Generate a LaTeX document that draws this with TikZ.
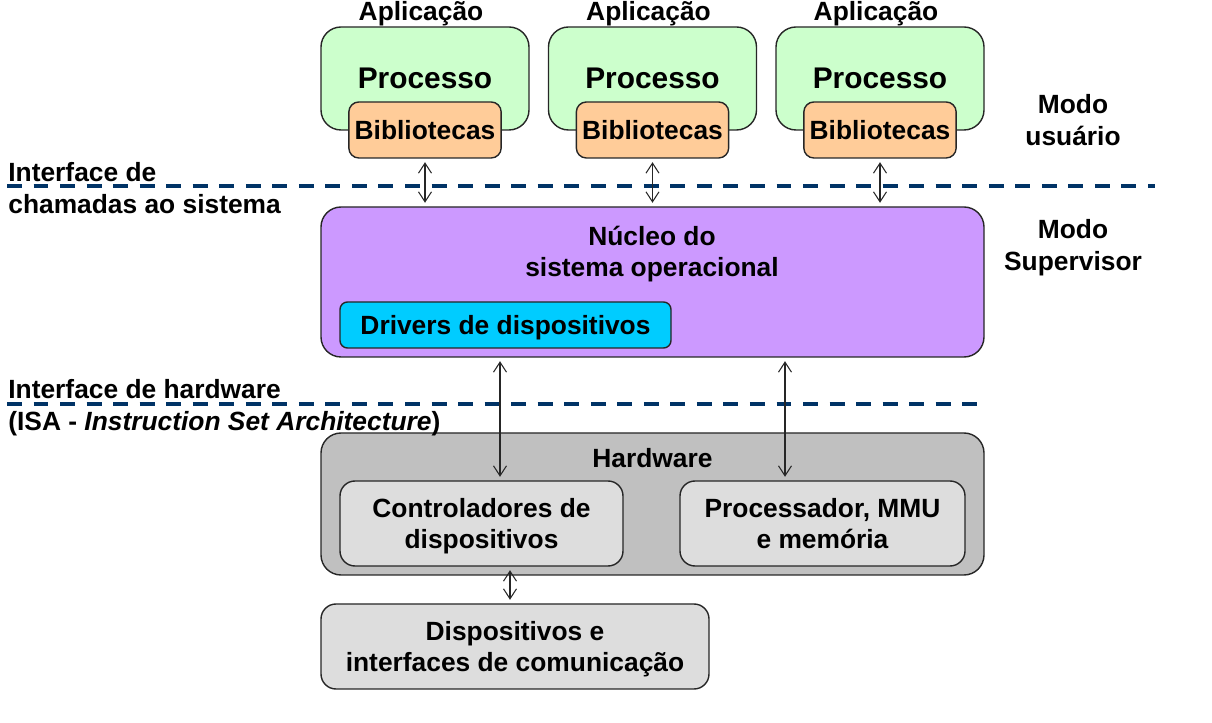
\documentclass[tikz,border=0pt]{standalone}
\usepackage{fontspec}
\setmainfont{Liberation Sans}
\usepackage{tikz}
\definecolor{linhacolor}{rgb}{0, 0.2, 0.4}
\definecolor{verde}{HTML}{CCFFCC}
\definecolor{laranja}{HTML}{FFCC99}
\definecolor{lilas}{HTML}{CC99FF}
\definecolor{ciano}{HTML}{00CCFF}
\definecolor{cinza}{HTML}{C0C0C0}
\definecolor{cinzaclaro}{HTML}{DDDDDD}
\usetikzlibrary{arrows.meta,shapes,positioning}
\tikzset{
	rotulo/.style={
		inner sep=1pt,
		font=\bfseries\fontsize{15}{18}\selectfont
	},
	processo/.style={
		rectangle,
		rounded corners=0.4cm,
		thick,
		draw=black!85,
		fill=verde,
		minimum width=4.16cm,
		minimum height=2.06cm,
		text centered,
		text depth=-2.2pt,
		font=\bfseries\fontsize{17}{20}\selectfont
	},
	biblio/.style={
		rectangle,
		rounded corners=0.2cm,
		thick,
		draw=black!85,
		fill=laranja,
		minimum width=3.04cm,
		minimum height=1.12cm,
		text centered,
		text depth=-2.2pt,
		font=\bfseries\fontsize{15}{18}\selectfont
	},
	camada/.style={
		rectangle,
		rounded corners=0.4cm,
		thick,
		draw=black!85,
		minimum width=13.26cm
	},
	caixa/.style={
		rectangle,
		rounded corners=0.3cm,
		thick,
		draw=black!85,
		fill=cinzaclaro,
		minimum height=1.7cm,
		align=center,
		text depth=-1.8pt,
		font=\bfseries\fontsize{15}{18}\selectfont
	},
	seta/.style={
		draw=black!85,
		line width=0.6pt,
		{Straight Barb[length=2mm,width=2.6mm]}-{Straight Barb[length=2mm,width=2.6mm]},
		shorten >=2pt,
		shorten <=2pt
	},
	tracejado/.style={
		draw=linhacolor,
		line width=1.9pt,
		dash pattern=on 8.5pt off 6.6pt
	},
}

\begin{document}
\begin{tikzpicture}[node distance=4.55cm,on grid]
\useasboundingbox (0,0) rectangle (24.24,14.46);
\node[processo] (proc1) at (8.50,12.89) {Processo};
\node[processo] (proc2) [right=of proc1] {Processo};
\node[processo] (proc3) [right=of proc2] {Processo};
\foreach \i in {1,2,3} {
	\node[rotulo,anchor=south,inner sep=0pt] (app\i) at ([xshift=-0.08cm]proc\i.north) {Aplicação};
	\node[biblio] (bib\i) [below=1.03cm of proc\i] {Bibliotecas};
}
\node[camada,fill=lilas,minimum height=3cm] (nucleo) at (13.05,8.82) {};
\node[rotulo,align=center] (txtnucleo) at (13.04,9.38) {Núcleo do\\sistema operacional};
\node[caixa,rounded corners=0.15cm,fill=ciano,minimum width=6.62cm,minimum height=0.92cm,text depth=0pt] (drivers) at (10.11,7.96) {Drivers de dispositivos};
\node[camada,fill=cinza,minimum height=2.84cm] (hw) at (13.05,4.38) {};
\node[rotulo] (txthw) at (13.05,5.30) {Hardware};
\node[caixa,minimum width=5.66cm] (ctrl) at (9.63,3.99) {Controladores de\\dispositivos};
\node[caixa,minimum width=5.70cm] (cpu) at (16.45,3.99) {Processador, MMU\\e memória};
\node[caixa,minimum width=7.76cm] (disp) at (10.30,1.53) {Dispositivos e\\interfaces de comunicação};
% rotulos laterais
\node[rotulo,anchor=west,align=left,inner sep=0pt] (ifsis) at (0.16,10.70) {Interface de\\chamadas ao sistema};
\node[rotulo,anchor=west,align=left,inner sep=0pt] (ifhw) at (0.16,6.30) {Interface de hardware\\(ISA - \textit{Instruction Set Architecture})};
\node[rotulo,align=center] (usuario) at (21.46,12.06) {Modo\\usuário};
\node[rotulo,align=center] (supervisor) at (21.46,9.50) {Modo\\Supervisor};
\coordinate (l1a) at (0.14,10.74);
\coordinate (l1b) at (23.10,10.74);
\coordinate (l2a) at (0.14,6.38);
\coordinate (l2b) at (19.70,6.38);
\draw[tracejado] (l1a) -- (l1b);
\draw[tracejado] (l2a) -- (l2b);
\foreach \i in {1,2,3}
	\draw[seta] (bib\i.south) -- (bib\i.south |- nucleo.north);
\coordinate (xa) at (10.00,0);
\coordinate (xb) at (15.70,0);
\coordinate (xc) at (10.20,0);
\draw[seta] (nucleo.south -| xa) -- (ctrl.north -| xa);
\draw[seta] (nucleo.south -| xb) -- (cpu.north -| xb);
\draw[seta] (ctrl.south -| xc) -- (disp.north -| xc);
\end{tikzpicture}
\end{document}
